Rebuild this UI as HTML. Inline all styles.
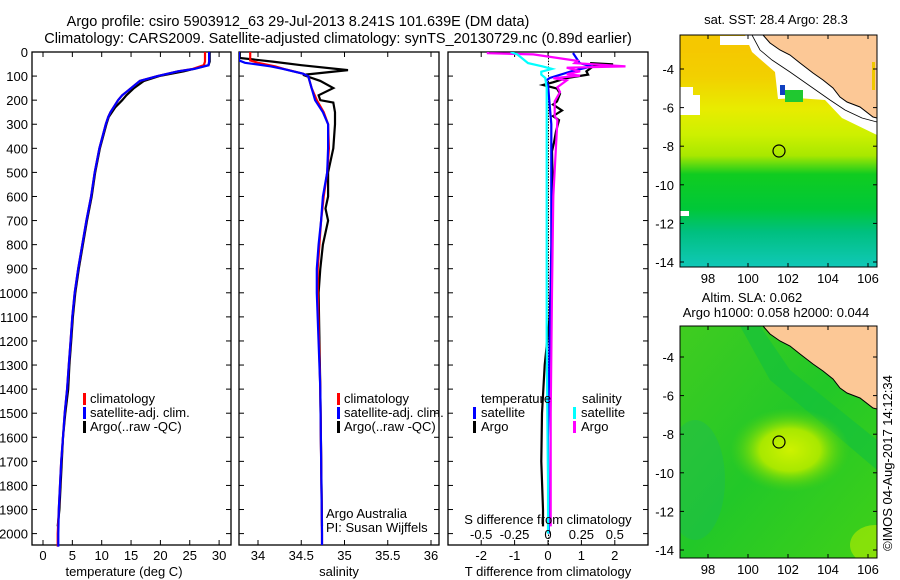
<!DOCTYPE html>
<html><head><meta charset="utf-8">
<style>
html,body{margin:0;padding:0;background:#fff;}
svg{display:block;font-family:"Liberation Sans",sans-serif;}
text{font-size:13px;fill:#000;}
.title{font-size:14.5px;}
</style></head>
<body>
<svg id="chart" width="900" height="580" viewBox="0 0 900 580" xmlns="http://www.w3.org/2000/svg">
<defs>
<linearGradient id="sstGrad" x1="0" y1="0" x2="0" y2="1">
<stop offset="0" stop-color="#f7c400"/>
<stop offset="0.18" stop-color="#f2d000"/>
<stop offset="0.32" stop-color="#e8ec00"/>
<stop offset="0.43" stop-color="#cdf000"/>
<stop offset="0.52" stop-color="#a8e800"/>
<stop offset="0.6" stop-color="#10cc20"/>
<stop offset="0.75" stop-color="#00c838"/>
<stop offset="0.85" stop-color="#00c080"/>
<stop offset="1" stop-color="#10c8b8"/>
</linearGradient>
<radialGradient id="slaBlob" cx="0.5" cy="0.5" r="0.5">
<stop offset="0" stop-color="#cdf200"/>
<stop offset="0.5" stop-color="#a8e800"/>
<stop offset="1" stop-color="#50d010" stop-opacity="0"/>
</radialGradient>
<linearGradient id="slaBase" x1="0" y1="0" x2="1" y2="1">
<stop offset="0" stop-color="#40cc20"/>
<stop offset="0.5" stop-color="#22c828"/>
<stop offset="1" stop-color="#40d018"/>
</linearGradient>
<clipPath id="mapclip2"><rect x="680" y="326" width="197" height="232"/></clipPath>
<clipPath id="mapclip1"><rect x="680" y="35" width="197" height="232"/></clipPath>
</defs>

<text class="title" x="298" y="26" text-anchor="middle">Argo profile: csiro 5903912_63 29-Jul-2013 8.241S 101.639E (DM data)</text>
<text class="title" x="338" y="43" text-anchor="middle">Climatology: CARS2009. Satellite-adjusted climatology: synTS_20130729.nc (0.89d earlier)</text>

<g id="panels"></g>

<g clip-path="url(#mapclip1)">
<rect x="680" y="35" width="197" height="232" fill="url(#sstGrad)"/>
<rect x="680" y="35" width="60" height="18" fill="#f5c800"/>
<rect x="720" y="36" width="30" height="9" fill="#fff"/>
<rect x="680" y="87" width="13" height="28" fill="#fff"/>
<rect x="693" y="95" width="7" height="20" fill="#fff"/>
<rect x="680" y="211" width="9" height="5" fill="#fff"/>
<polygon points="745,35 752,52 775,72 778,99 797,98 825,100 842,118 877,135 877,35" fill="#fff"/>
<rect x="780" y="85" width="5" height="10" fill="#1040c0"/>
<rect x="785" y="90" width="18" height="12" fill="#20c830"/>
<polygon points="763,35 770,43 780,50 790,55 800,63 813,73 823,80 833,88 840,97 847,102 860,107 873,117 877,118 877,35" fill="#fcc896" stroke="#000" stroke-width="1"/>
<polyline points="752,35 760,50 772,60 790,72 810,86 830,100 845,110 862,118 877,122" fill="none" stroke="#000" stroke-width="0.8"/>
<rect x="872" y="62" width="3" height="28" fill="#f0c800"/>
<circle cx="779" cy="151" r="6" fill="none" stroke="#000" stroke-width="1.2"/>
</g>
<rect x="680" y="35" width="197" height="232" fill="none" stroke="#000" stroke-width="1"/>
<text x="776" y="24" text-anchor="middle">sat. SST: 28.4 Argo: 28.3</text>

<g clip-path="url(#mapclip2)">
<rect x="680" y="326" width="197" height="232" fill="url(#slaBase)"/>
<polygon points="740,326 760,326 790,370 877,440 877,470 830,430 770,380" fill="#10c040" opacity="0.6"/>
<ellipse cx="695" cy="480" rx="30" ry="60" fill="#18b860" opacity="0.35"/>
<ellipse cx="790" cy="450" rx="60" ry="42" fill="url(#slaBlob)"/>
<ellipse cx="875" cy="545" rx="25" ry="20" fill="#b8ec00" opacity="0.6"/>
<polygon points="763,326 770,334 780,341 790,346 800,354 813,364 823,371 833,379 840,388 847,393 860,398 873,408 877,409 877,326" fill="#fcc896" stroke="#000" stroke-width="1"/>
<circle cx="779" cy="442" r="6" fill="none" stroke="#000" stroke-width="1.2"/>
</g>
<rect x="680" y="326" width="197" height="232" fill="none" stroke="#000" stroke-width="1"/>
<text x="752" y="302" text-anchor="middle">Altim. SLA: 0.062</text>
<text x="776" y="317" text-anchor="middle">Argo h1000: 0.058 h2000: 0.044</text>
<g id="mapaxes"></g>

<text transform="translate(892,463) rotate(-90)" text-anchor="middle">©IMOS 04-Aug-2017 14:12:34</text>
</svg>

<script>
// ---- data ----
var tempArgoDepth = [0,40,55,65,80,100,120,150,180,200,230,270,300,400,500,600,700,800,900,1000,1100,1200,1300,1400,1500,1600,1700,1800,1900,1970];
var tempArgo      = [28.4,28.4,28.2,26.5,24,19.8,17.2,15.5,14.2,13.5,12.3,11.2,10.8,9.7,8.9,8.3,7.5,6.8,6.1,5.5,5.1,4.8,4.5,4.3,3.8,3.4,3.2,3.0,2.8,2.5];
var tempClimDepth = [0,40,55,70,80,100,120,150,180,200,250,270,300,400,500,600,700,800,900,1000,1100,1200,1300,1400,1500,1600,1700,1800,1900,2000,2054];
var tempClim      = [27.6,27.6,27.4,25.5,23,19.5,16.5,15,13.5,12.8,11.5,11.1,10.7,9.6,8.8,8.2,7.4,6.7,6.0,5.4,5.0,4.7,4.4,4.1,3.7,3.4,3.1,2.9,2.7,2.5,2.5];
var tempSat       = [28.3,28.3,28.2,25.8,23,19.5,16.5,15,13.5,12.8,11.5,11.1,10.7,9.6,8.8,8.2,7.4,6.7,6.0,5.4,5.0,4.7,4.4,4.1,3.7,3.4,3.1,2.9,2.7,2.6,2.6];

var salDepth     = [0,35,45,60,70,90,100,150,200,250,300,400,500,600,700,800,900,1000,1400,2000,2054];
var salClim      = [33.91,33.91,34.0,34.2,34.3,34.52,34.58,34.62,34.68,34.76,34.81,34.82,34.8,34.76,34.73,34.71,34.69,34.69,34.72,34.74,34.74];
var salSat       = [33.78,33.78,33.85,34.15,34.29,34.52,34.58,34.62,34.66,34.75,34.81,34.81,34.8,34.75,34.73,34.7,34.68,34.68,34.72,34.74,34.74];
var salArgoDepth = [0,25,40,55,75,95,100,120,150,180,200,210,250,300,400,500,600,650,700,800,900,1000,1400,1970];
var salArgo      = [33.79,33.79,34.17,34.5,35.04,34.52,34.56,34.72,34.87,34.7,34.72,34.87,34.89,34.89,34.87,34.81,34.81,34.78,34.81,34.75,34.72,34.7,34.72,34.74];

var dTSatDepth  = [4,46,60,80,108,119,137,300,800,1200,1600,2000];
var dTSat       = [0.75,0.95,1.3,0.7,0.05,-0.06,0,0.1,0.1,0.05,0.0,0.02];
var dTArgoDepth = [46,51,60,80,94,108,126,137,152,173,205,218,243,266,283,330,376,412,600,900,1100,1300,1500,1700,1900,1970];
var dTArgo      = [1.26,1.95,1.35,1.15,1.2,0.57,0.15,-0.15,0.27,0.36,0.27,0.15,0.42,0.15,0.33,0.24,0.18,0.12,0.15,0.1,0.05,-0.1,-0.18,-0.2,-0.15,-0.15];
var dSSatDepth  = [0,10,46,60,70,82,94,108,150,600,1200,1800,2000];
var dSSat       = [-0.28,-0.23,-0.15,-0.04,0.03,-0.05,-0.05,-0.02,-0.01,-0.01,-0.01,0,0];
var dSArgoDepth = [0,5,10,37,46,60,65,80,92,98,109,118,146,166,205,245,266,283,600,1000,1500,1970];
var dSArgo      = [-0.45,-0.45,-0.11,0.22,0.2,0.58,0.14,0.24,0.14,0.24,0.04,0.14,0.07,0.09,0.05,0.05,0.05,0.07,0.04,0.03,0.02,0.02];

var depthTicks = [0,100,200,300,400,500,600,700,800,900,1000,1100,1200,1300,1400,1500,1600,1700,1800,1900,2000];
var tempTicks = [0,5,10,15,20,25,30];
var salTicks = [34,34.5,35,35.5,36];
var dTTicks = [-2,-1,0,1,2];
var dSTicks = [-0.5,-0.25,0,0.25,0.5];
var lonTicks = [98,100,102,104,106];
var latTicks = [-4,-6,-8,-10,-12,-14];

// ---- axes ----
var TOP=52, BOT=545;
function yD(d){ return TOP + d*0.2408; }
function xT(v){ return 43 + v*5.87; }
function xS(v){ return 258 + (v-34)*86.5; }
function xDT(v){ return 548 + v*33.4; }
function xDS(v){ return 548 + v*133.6; }

var NS='http://www.w3.org/2000/svg';
var root=document.getElementById('panels');
function mk(tag,attrs,parent){ var e=document.createElementNS(NS,tag); for(var k in attrs) e.setAttribute(k,attrs[k]); (parent||root).appendChild(e); return e; }
function txt(x,y,s,anchor,parent){ var e=mk('text',{x:x,y:y,'text-anchor':anchor||'middle'},parent); e.textContent=s; return e; }

function frame(x0,x1,name){
  var r=mk('rect',{x:x0,y:TOP,width:x1-x0,height:BOT-TOP,fill:'none',stroke:'#000','stroke-width':1.3});
  
  
  depthTicks.forEach(function(d){
    mk('line',{x1:x0,x2:x0+5,y1:yD(d),y2:yD(d),stroke:'#000'});
    mk('line',{x1:x1-5,x2:x1,y1:yD(d),y2:yD(d),stroke:'#000'});
  });
}
function xticks(vals,fx,x0,x1,labelY){
  vals.forEach(function(v){
    var x=fx(v);
    mk('line',{x1:x,x2:x,y1:TOP,y2:TOP+5,stroke:'#000'});
    mk('line',{x1:x,x2:x,y1:BOT-5,y2:BOT,stroke:'#000'});
    if(labelY){ var t=txt(x,labelY,String(v));
      
       }
  });
}
function line(depths,vals,fx,color,name,w){
  var pts=depths.map(function(d,i){ return fx(vals[i]).toFixed(1)+','+yD(d).toFixed(1); }).join(' ');
  var p=mk('polyline',{points:pts,fill:'none',stroke:color,'stroke-width':w||2.2});
  
  
}
function legendBar(x,y,color){ mk('rect',{x:x,y:y-10,width:3,height:12,fill:color}); }

depthTicks.forEach(function(d){
  var t=txt(28,yD(d)+5,String(d),'end');
  
  
});

// panel 1 temperature
frame(32,231,'temperature-panel');
xticks(tempTicks,xT,32,231,560);
line(tempArgoDepth,tempArgo,xT,'#000','temp-argo-line');
line(tempClimDepth,tempClim,xT,'#f00','temp-climatology-line');
line(tempClimDepth,tempSat,xT,'#00f','temp-satellite-line');
var l1=txt(124,576,'temperature (deg C)');  
legendBar(83,403,'#f00'); txt(90,403,'climatology','start');
legendBar(83,417,'#00f'); txt(90,417,'satellite-adj. clim.','start');
legendBar(83,431,'#000'); txt(90,431,'Argo(..raw -QC)','start');

// panel 2 salinity
frame(239,439,'salinity-panel');
xticks(salTicks,xS,239,439,560);
var cp=mk('clipPath',{id:'c2'}); mk('rect',{x:239,y:TOP,width:200,height:BOT-TOP},cp);
var g2=mk('g',{'clip-path':'url(#c2)'});
[ [salArgoDepth,salArgo,'#000','salinity-argo-line'],[salDepth,salClim,'#f00','salinity-climatology-line'],[salDepth,salSat,'#00f','salinity-satellite-line'] ].forEach(function(s){
  var pts=s[0].map(function(d,i){ return xS(s[1][i]).toFixed(1)+','+yD(d).toFixed(1); }).join(' ');
  var p=mk('polyline',{points:pts,fill:'none',stroke:s[2],'stroke-width':2.2},g2);
  
  
});
var l2=txt(339,576,'salinity');  
legendBar(337,403,'#f00'); txt(344,403,'climatology','start');
legendBar(337,417,'#00f'); txt(344,417,'satellite-adj. clim.','start');
legendBar(337,431,'#000'); txt(344,431,'Argo(..raw -QC)','start');
txt(326,518,'Argo Australia','start');
txt(326,532,'PI: Susan Wijffels','start');

// panel 3 differences
frame(448,648,'difference-panel');
xticks(dTTicks,xDT,448,648,560);
for(var d=0; d<2050; d+=12){ mk('rect',{x:548,y:yD(d),width:1,height:1.5,fill:'#000'}); }
var cp3=mk('clipPath',{id:'c3'}); mk('rect',{x:448,y:TOP,width:200,height:BOT-TOP},cp3);
var g3=mk('g',{'clip-path':'url(#c3)'});
[ [dTArgoDepth,dTArgo,xDT,'#000','dT-argo-line'],[dTSatDepth,dTSat,xDT,'#00f','dT-satellite-line'],[dSArgoDepth,dSArgo,xDS,'#f0f','dS-argo-line'],[dSSatDepth,dSSat,xDS,'#0ff','dS-satellite-line'] ].forEach(function(s){
  var pts=s[0].map(function(d,i){ return s[2](s[1][i]).toFixed(1)+','+yD(d).toFixed(1); }).join(' ');
  var p=mk('polyline',{points:pts,fill:'none',stroke:s[3],'stroke-width':2.2},g3);
  
  
});
dSTicks.forEach(function(v){ var t=txt(xDS(v),539,String(v));   });
var l3=txt(548,524,'S difference from climatology');  
var l4=txt(548,576,'T difference from climatology');  
txt(481,403,'temperature','start'); txt(582,403,'salinity','start');
legendBar(473,417,'#00f'); txt(481,417,'satellite','start');
legendBar(473,431,'#000'); txt(481,431,'Argo','start');
legendBar(573,417,'#0ff'); txt(581,417,'satellite','start');
legendBar(573,431,'#f0f'); txt(581,431,'Argo','start');

// map axes
var ma=document.getElementById('mapaxes');
function xLon(v){ return 708 + (v-98)*20; }
function yLat(v,off){ return 69 + off + (-4-v)*19.3; }
[[0,0],[291,-3]].forEach(function(o){
  var off=o[0], lo=o[1];
  lonTicks.forEach(function(v){
    var x=xLon(v);
    mk('line',{x1:x,x2:x,y1:35+off,y2:39+off,stroke:'#000'},ma);
    mk('line',{x1:x,x2:x,y1:263+off,y2:267+off,stroke:'#000'},ma);
    var t=txt(x,283+off,String(v),'middle',ma);
    
    
  });
  latTicks.forEach(function(v){
    var y=yLat(v,off+lo);
    mk('line',{x1:680,x2:684,y1:y,y2:y,stroke:'#000'},ma);
    mk('line',{x1:873,x2:877,y1:y,y2:y,stroke:'#000'},ma);
    var t=txt(674,y+5,String(v),'end',ma);
    
    
  });
});
</script>
</body></html>
